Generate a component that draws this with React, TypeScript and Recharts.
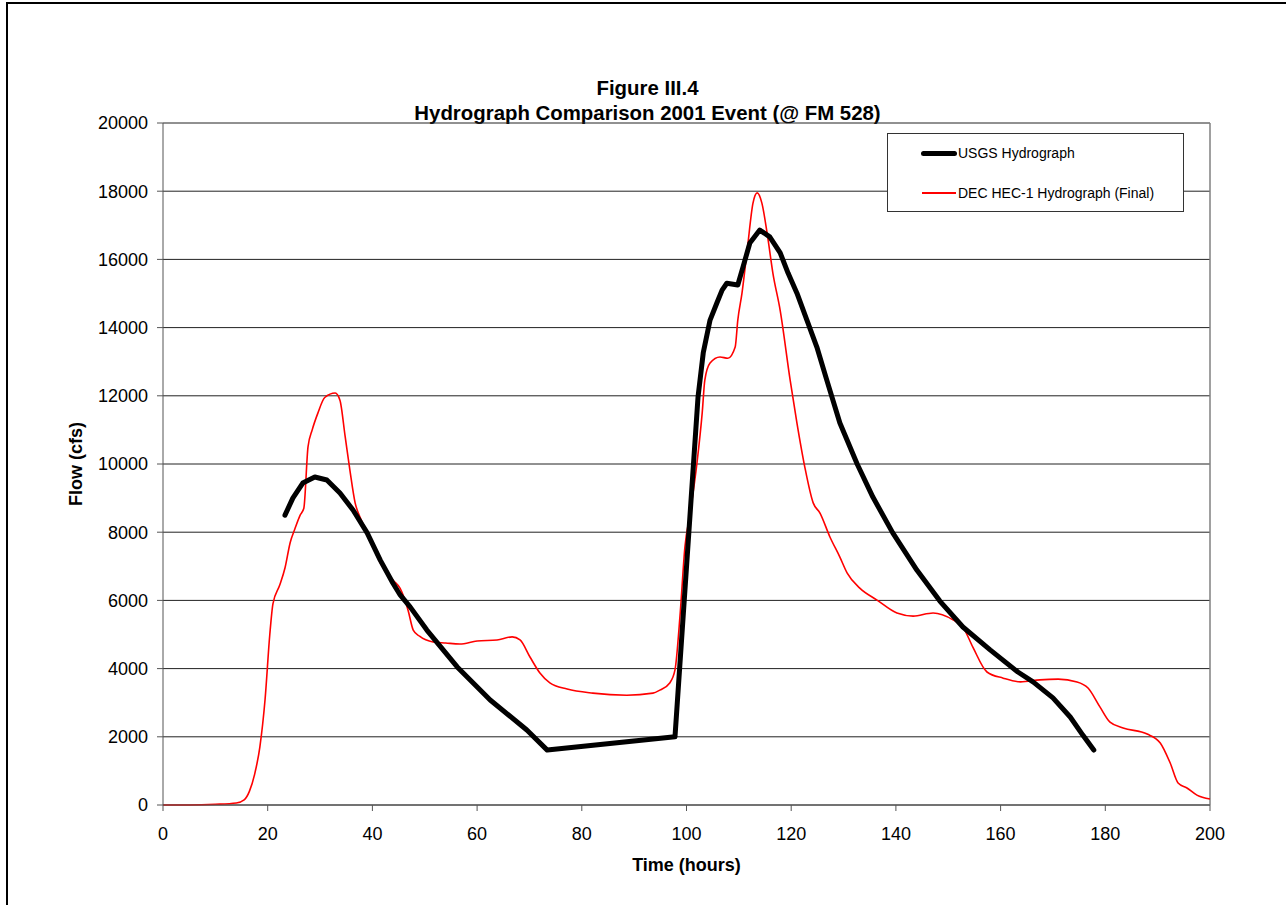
import { CartesianGrid, Line, LineChart, ReferenceLine, XAxis, YAxis } from "recharts";

// USGS observed hydrograph (hours, cfs)
const usgsHours = [
  23.3, 24.8, 26.7, 29, 31.3, 33.8, 36.3, 39, 41.5, 43.9, 45.3, 47.2, 50.4, 56.2, 62.5, 69.5, 73.4,
  97.8, 102.2, 103.2, 104.5, 105.8, 106.8, 107.7, 109.8, 110.8, 112.1, 114, 115.9, 117.9, 119.4,
  121.1, 123, 124.9, 126.8, 129.3, 132.6, 135.6, 139.4, 144, 148.4, 152.8, 158, 163.3, 166.2, 170,
  173.3, 175.7, 177.8,
];
const usgsFlow = [
  8500, 9000, 9440, 9620, 9530, 9150, 8650, 7980, 7180, 6510, 6160, 5810, 5130, 4050, 3080, 2200, 1610,
  2000, 11960, 13260, 14220, 14720, 15100, 15300, 15250, 15780, 16480, 16860, 16660, 16190, 15600,
  15010, 14220, 13430, 12460, 11200, 10000, 9030, 7980, 6890, 5980, 5220, 4550, 3900, 3610, 3140,
  2580, 2050, 1610,
];

// DEC HEC-1 computed hydrograph (hours, cfs)
const decHours = [
  0, 5, 10, 14, 15.5, 16.5, 17.5, 18.5, 19.5, 20.4, 21, 22.3, 23.3, 24.3, 25.2, 26.2, 26.9, 27.7, 28.5,
  29.6, 30.9, 32.9, 33.8, 34.8, 35.7, 36.7, 37.6, 39.5, 41.5, 43.9, 45.3, 46.8, 47.8, 49, 51.6, 54,
  56.7, 60, 63.8, 66.7, 68.2, 70.1, 72, 73.9, 77.2, 82.1, 88.6, 93.6, 94.9, 96.8, 97.8, 98.8, 99.7,
  100.7, 102, 103, 103.5, 104.5, 106.4, 107.9, 109.3, 109.8, 110.6, 111.6, 112.7, 113.5, 114.4, 115.4,
  116.5, 117.9, 119.8, 121.1, 122.6, 124.2, 125.5, 127.4, 129.3, 130.7, 133.1, 136.4, 140.2, 143.3,
  147.1, 150.9, 152.8, 154.7, 157.4, 160.5, 163.8, 167.5, 171, 174.6, 176.7, 179, 180.9, 183.4, 188,
  190.5, 192.4, 193.9, 195.6, 197.5, 200,
];
const decFlow = [
  0, 0, 20, 60, 150, 400, 900, 1700, 3100, 5000, 5900, 6450, 6950, 7700, 8100, 8500, 8700, 10500, 11000,
  11500, 11950, 12080, 11870, 10800, 9820, 8860, 8450, 7860, 7100, 6600, 6350, 5720, 5130, 4950, 4780, 4750,
  4720, 4810, 4840, 4930, 4840, 4340, 3870, 3580, 3400, 3280, 3220, 3280, 3370, 3580, 3960, 5630, 7570,
  8560, 10030, 11500, 12460, 12960, 13140, 13100, 13430, 14220, 15010, 16280, 17650, 17950, 17650, 16770,
  15600, 14500, 12460, 11200, 9910, 8860, 8560, 7860, 7270, 6800, 6360, 6010, 5630, 5540,
  5630, 5430, 5220, 4630, 3900, 3720, 3610, 3670, 3690, 3610, 3430, 2870, 2430, 2260, 2080,
  1820, 1230, 645, 500, 290, 175,
];

const xTicks = [0, 20, 40, 60, 80, 100, 120, 140, 160, 180, 200];
const yTicks = [0, 2000, 4000, 6000, 8000, 10000, 12000, 14000, 16000, 18000, 20000];

const usgsData = usgsHours.map((t, i) => ({ t, v: usgsFlow[i] }));
const decData = decHours.map((t, i) => ({ t, v: decFlow[i] }));

const FONT = "'Liberation Sans', Arial, sans-serif";

function LegendBox() {
  return (
    <div
      style={{
        position: "absolute",
        left: 887,
        top: 133,
        width: 295,
        height: 77,
        border: "1px solid #333",
        background: "#fff",
        fontFamily: FONT,
        fontSize: 14,
        color: "#000",
      }}
    >
      <div style={{ position: "absolute", left: 33, top: 17, width: 36, height: 5, background: "#000", borderRadius: 3 }} />
      <div style={{ position: "absolute", left: 70, top: 11 }}>USGS Hydrograph</div>
      <div style={{ position: "absolute", left: 34, top: 58, width: 34, height: 2, background: "#ff0000" }} />
      <div style={{ position: "absolute", left: 70, top: 51 }}>DEC HEC-1 Hydrograph (Final)</div>
    </div>
  );
}

export default function App() {
  return (
    <div style={{ position: "fixed", left: 0, top: 0, width: 1286, height: 905, background: "#fff", overflow: "hidden" }}>
      <div
        style={{
          position: "absolute",
          left: 6,
          top: 2,
          width: 1400,
          height: 1000,
          border: "2px solid #000",
        }}
      />
      <div
        style={{
          position: "absolute",
          left: 124,
          width: 1047,
          top: 76,
          textAlign: "center",
          fontFamily: FONT,
          fontWeight: "bold",
          fontSize: 20.4,
          lineHeight: "25px",
        }}
      >
        <div>Figure III.4</div>
        <div>Hydrograph Comparison 2001 Event (@ FM 528)</div>
      </div>
      <div
        style={{
          position: "absolute",
          left: 163,
          width: 1047,
          top: 855,
          textAlign: "center",
          fontFamily: FONT,
          fontWeight: "bold",
          fontSize: 18,
        }}
      >
        Time (hours)
      </div>
      <div
        style={{
          position: "absolute",
          left: 76,
          top: 464,
          transform: "translate(-50%, -50%) rotate(-90deg)",
          fontFamily: FONT,
          fontWeight: "bold",
          fontSize: 18,
          whiteSpace: "nowrap",
        }}
      >
        Flow (cfs)
      </div>
      <div style={{ position: "absolute", left: 0, top: 0 }}>
        <LineChart width={1286} height={905} margin={{ top: 123, right: 76, bottom: 70, left: 103 }}>
          <CartesianGrid vertical={false} stroke="#222" strokeOpacity={1} />
          <XAxis
            type="number"
            dataKey="t"
            domain={[0, 200]}
            ticks={xTicks}
            interval={0}
            stroke="#555"
            tickSize={6}
            tickMargin={16}
            height={30}
            tick={{ fill: "#000", fontSize: 18, fontFamily: FONT }}
          />
          <YAxis
            type="number"
            dataKey="v"
            domain={[0, 20000]}
            ticks={yTicks}
            interval={0}
            stroke="#555"
            tickSize={6}
            tickMargin={9}
            width={60}
            tick={{ fill: "#000", fontSize: 18, fontFamily: FONT }}
          />
          <ReferenceLine x={200} stroke="#808080" strokeWidth={1.5} />
          <Line
            data={decData}
            dataKey="v"
            name="DEC HEC-1 Hydrograph (Final)"
            type="monotone"
            stroke="#ff0000"
            strokeWidth={1.6}
            dot={false}
            isAnimationActive={false}
          />
          <Line
            data={usgsData}
            dataKey="v"
            name="USGS Hydrograph"
            type="linear"
            stroke="#000"
            strokeWidth={5}
            strokeLinejoin="round"
            strokeLinecap="round"
            dot={false}
            isAnimationActive={false}
          />
        </LineChart>
      </div>
      <LegendBox />
    </div>
  );
}
